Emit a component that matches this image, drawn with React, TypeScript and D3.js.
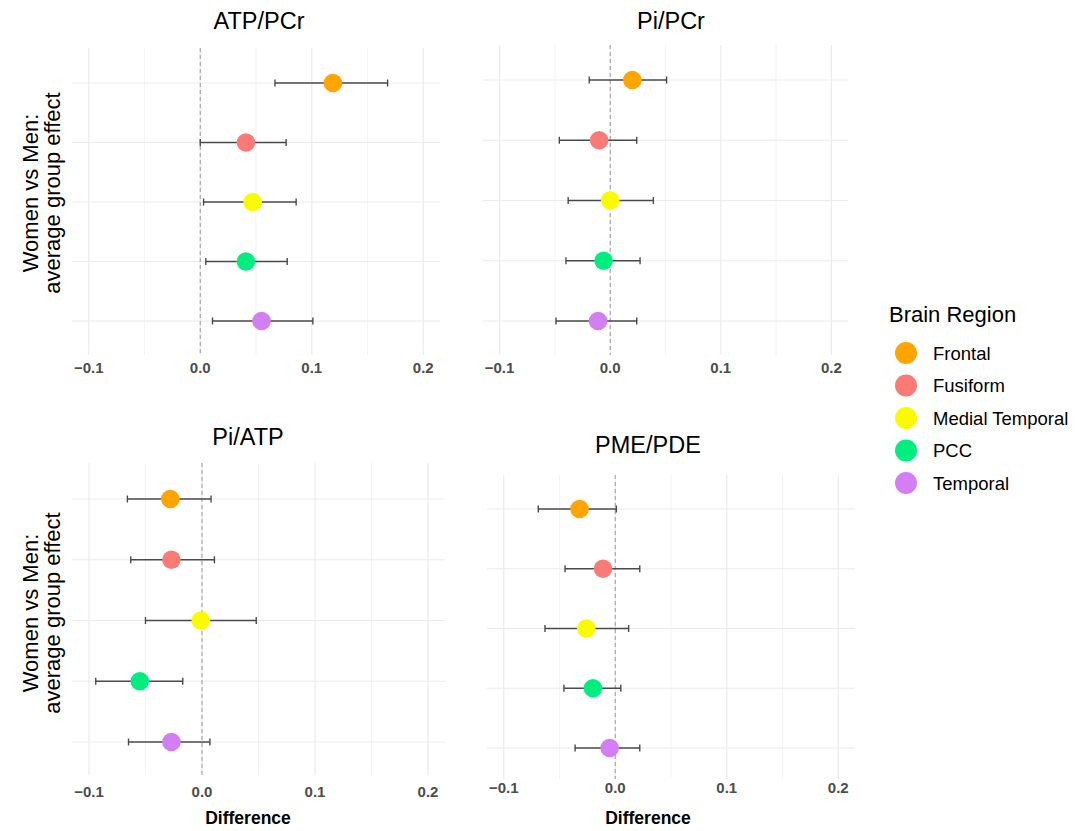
import React from "react";
import * as d3 from "d3";

const regions = ["Frontal", "Fusiform", "Medial Temporal", "PCC", "Temporal"];
const regionColors = ["#FFA500", "#FA7B76", "#FAFA00", "#00EE80", "#D47EF4"];

const metrics = ["ATP/PCr", "Pi/PCr", "Pi/ATP", "PME/PDE"];

const atpPcrEst = [0.119, 0.041, 0.047, 0.041, 0.055];
const atpPcrLo = [0.067, 0.0, 0.003, 0.005, 0.011];
const atpPcrHi = [0.168, 0.077, 0.086, 0.078, 0.101];

const piPcrEst = [0.020, -0.010, 0.0, -0.006, -0.011];
const piPcrLo = [-0.019, -0.046, -0.038, -0.040, -0.049];
const piPcrHi = [0.051, 0.024, 0.039, 0.027, 0.024];

const piAtpEst = [-0.028, -0.027, -0.001, -0.055, -0.027];
const piAtpLo = [-0.066, -0.063, -0.050, -0.094, -0.065];
const piAtpHi = [0.008, 0.011, 0.048, -0.017, 0.007];

const pmePdeEst = [-0.032, -0.011, -0.026, -0.020, -0.005];
const pmePdeLo = [-0.069, -0.045, -0.063, -0.046, -0.036];
const pmePdeHi = [0.001, 0.022, 0.012, 0.005, 0.022];

const estimates = [atpPcrEst, piPcrEst, piAtpEst, pmePdeEst];
const lowers = [atpPcrLo, piPcrLo, piAtpLo, pmePdeLo];
const uppers = [atpPcrHi, piPcrHi, piAtpHi, pmePdeHi];

const xDomain = [-0.115, 0.215];
const majorTicks = [-0.1, 0.0, 0.1, 0.2];
const minorTicks = [-0.05, 0.05, 0.15];

const yTitleLines = ["Women vs Men:", "average group effect"];
const xTitle = "Difference";
const legendTitle = "Brain Region";

// layout per panel
const layouts = [
  { left: 72, right: 440, top: 48, bottom: 355, rowTop: 83, rowBottom: 321, tickY: 373, titleX: 259, titleY: 29, xTitle: false, yTitle: true, yTitleCenter: 193 },
  { left: 483, right: 848, top: 45, bottom: 355, rowTop: 80, rowBottom: 321, tickY: 373, titleX: 671, titleY: 29, xTitle: false, yTitle: false, yTitleCenter: 0 },
  { left: 72, right: 445, top: 463, bottom: 775, rowTop: 499, rowBottom: 742, tickY: 797, titleX: 248, titleY: 445, xTitle: true, yTitle: true, yTitleCenter: 613 },
  { left: 487, right: 855, top: 475, bottom: 779, rowTop: 509, rowBottom: 748, tickY: 793, titleX: 648, titleY: 453, xTitle: true, yTitle: false, yTitleCenter: 0 },
];

const FONT = "'Liberation Sans', Arial, Helvetica, sans-serif";

function Panel({ idx }: { idx: number }) {
  const L = layouts[idx];
  const x = d3.scaleLinear().domain(xDomain).range([L.left, L.right]);
  const y = d3.scalePoint<string>().domain(regions).range([L.rowTop, L.rowBottom]).padding(0);
  const est = estimates[idx];
  const lo = lowers[idx];
  const hi = uppers[idx];
  const fmt = d3.format(".1f");
  return (
    <g>
      {minorTicks.map((t) => (
        <line key={"mn" + t} x1={x(t)} x2={x(t)} y1={L.top} y2={L.bottom} stroke="#F3F3F3" strokeWidth={1} />
      ))}
      {majorTicks.map((t) => (
        <line key={"mj" + t} x1={x(t)} x2={x(t)} y1={L.top} y2={L.bottom} stroke="#EBEBEB" strokeWidth={1.2} />
      ))}
      {regions.map((r) => (
        <line key={"h" + r} x1={L.left} x2={L.right} y1={y(r)} y2={y(r)} stroke="#EBEBEB" strokeWidth={1.2} />
      ))}
      <line x1={x(0)} x2={x(0)} y1={L.top} y2={L.bottom} stroke="#9A9A9A" strokeWidth={1} strokeDasharray="4,3" />
      {regions.map((r, i) => {
        const yy = y(r) as number;
        return (
          <g key={"e" + r} stroke="#4A4A4A" strokeWidth={1.4}>
            <line x1={x(lo[i])} x2={x(hi[i])} y1={yy} y2={yy} />
            <line x1={x(lo[i])} x2={x(lo[i])} y1={yy - 3.5} y2={yy + 3.5} />
            <line x1={x(hi[i])} x2={x(hi[i])} y1={yy - 3.5} y2={yy + 3.5} />
          </g>
        );
      })}
      {regions.map((r, i) => (
        <circle key={"p" + r} cx={x(est[i])} cy={y(r)} r={9.3} fill={regionColors[i]} />
      ))}
      {majorTicks.map((t) => (
        <text key={"tl" + t} x={x(t)} y={L.tickY} textAnchor="middle" fontFamily={FONT} fontWeight="bold" fontSize={15} fill="#4D4D4D">
          {fmt(t)}
        </text>
      ))}
      <text x={L.titleX} y={L.titleY} textAnchor="middle" fontFamily={FONT} fontSize={23.5} fill="#000">
        {metrics[idx]}
      </text>
      {L.xTitle && (
        <text x={L.titleX} y={824} textAnchor="middle" fontFamily={FONT} fontWeight="bold" fontSize={17.5} fill="#000">
          {xTitle}
        </text>
      )}
      {L.yTitle && (
        <g>
          <text transform={`translate(38,${L.yTitleCenter}) rotate(-90)`} textAnchor="middle" fontFamily={FONT} fontSize={22} fill="#000">
            {yTitleLines[0]}
          </text>
          <text transform={`translate(60,${L.yTitleCenter}) rotate(-90)`} textAnchor="middle" fontFamily={FONT} fontSize={22} fill="#000">
            {yTitleLines[1]}
          </text>
        </g>
      )}
    </g>
  );
}

function Legend() {
  const ly = d3.scalePoint<string>().domain(regions).range([353, 483]).padding(0);
  return (
    <g>
      <text x={889} y={322} fontFamily={FONT} fontSize={22} fill="#000">
        {legendTitle}
      </text>
      {regions.map((r, i) => (
        <g key={r}>
          <circle cx={906} cy={ly(r)} r={11} fill={regionColors[i]} />
          <text x={933} y={(ly(r) as number) + 6.5} fontFamily={FONT} fontSize={18.5} fill="#000">
            {r}
          </text>
        </g>
      ))}
    </g>
  );
}

export default function App() {
  return (
    <svg width={1085} height={831} style={{ position: "absolute", left: 0, top: 0, background: "#fff" }}>
      <rect x={0} y={0} width={1085} height={831} fill="#fff" />
      {metrics.map((m, i) => (
        <Panel key={m} idx={i} />
      ))}
      <Legend />
    </svg>
  );
}
